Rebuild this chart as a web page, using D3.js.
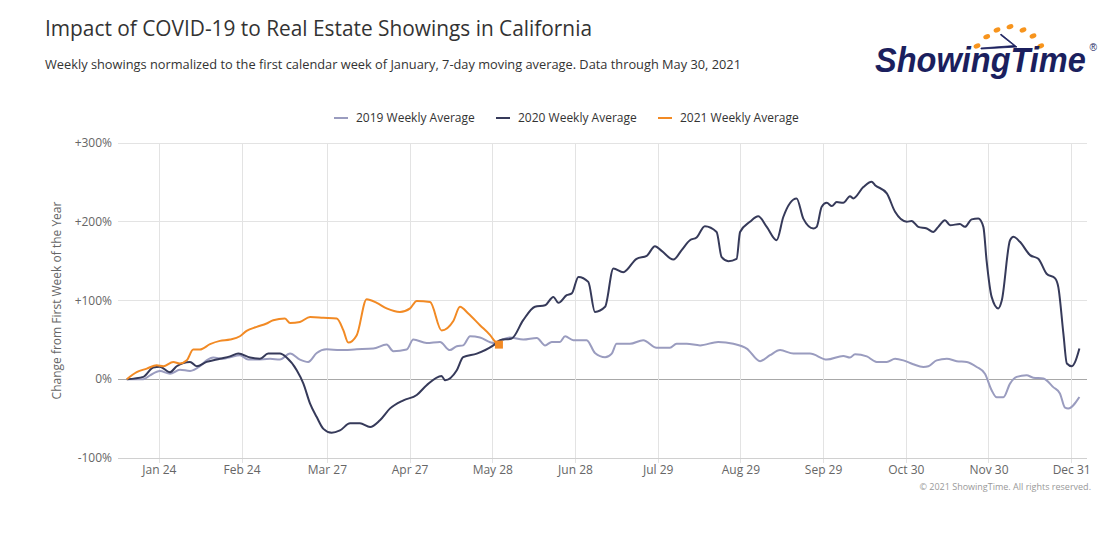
<!DOCTYPE html>
<html><head><meta charset="utf-8">
<script src="https://cdn.jsdelivr.net/npm/d3@7"></script>
<style>
body{margin:0;background:#fff;}
svg{font-family:"Open Sans",sans-serif;display:block;}
</style>
</head><body>
<svg id="chart" width="1113" height="536"></svg>
<script>
// ---- DATA (x = day of year, 0 = Jan 1; y = % change from first week) ----
const seriesNames = ["2019 Weekly Average", "2020 Weekly Average", "2021 Weekly Average"];

const data2019 = [[10.8,0],[17.0,0],[19.5,5],[23.2,10.6],[27.0,7],[30.7,12],[34.5,10.6],[38.2,16.5],[40.7,24],[43.2,27.5],[47.0,26],[49.5,28],[53.2,30.5],[56.3,25],[59.5,25],[64.5,26],[68.2,25],[72.0,32.6],[75.7,25],[78.8,22],[82.0,33.4],[85.7,38],[90.7,37],[97.0,38],[103.2,39],[108.2,44],[110.7,35.6],[115.7,37.7],[118.2,50.4],[123.2,46],[128.2,47.4],[131.9,37],[134.5,42],[136.9,43],[139.5,54.6],[143.2,53],[148.2,46],[154.4,53],[159.4,50.4],[164.5,52.5],[167.6,43],[170.1,47.4],[173.2,47.4],[175.1,54.6],[178.2,49.6],[183.2,49.6],[186.3,33.4],[190.1,28],[192.6,32.6],[194.4,45],[199.4,45],[204.4,49.6],[209.4,40],[214.4,40],[216.9,45],[220.7,45],[225.7,43],[232.5,47.4],[238.2,45],[243.2,39],[248.2,23],[251.9,30.5],[255.7,37],[260.7,32.6],[266.9,32.6],[273.2,25],[279.4,29.6],[281.9,27.5],[283.8,31.8],[288.2,29],[291.9,22],[295.7,22],[298.8,26],[301.9,24],[305.6,19],[309.4,15.6],[311.3,16.5],[314.4,24],[318.2,26],[321.9,23],[325.7,22],[329.4,15.6],[332.5,7],[335.0,-14],[336.9,-23],[339.4,-23],[341.9,-5.5],[344.4,3],[348.1,5],[350.6,2],[354.4,1],[358.1,-10],[360.6,-18],[362.5,-36],[363.7,-37],[367.9,-22.5]];

const data2020 = [[10.8,0],[17.0,3],[20.7,15],[23.2,16],[27.0,9],[29.5,16.5],[34.5,22],[37.0,16.5],[40.7,22],[45.7,26],[49.5,29],[52.6,32.6],[57.0,27.5],[60.7,26],[63.8,32.6],[68.2,32.6],[70.7,27.5],[74.5,11.4],[77.0,-5.5],[79.5,-31],[82.0,-48],[84.5,-63],[87.6,-68],[90.7,-65],[94.5,-56],[98.2,-56],[102.0,-60.6],[105.7,-52],[109.5,-37],[114.5,-26.7],[119.5,-20],[123.2,-7.6],[128.8,4.2],[130.1,-1.3],[134.5,11.4],[136.9,28],[142.0,32.6],[148.2,43],[150.7,49.6],[155.1,51.7],[159.4,75],[163.8,92],[167.6,94],[170.7,104.6],[172.6,97],[175.7,106.7],[177.6,109],[180.1,130],[183.8,123.6],[186.3,85.5],[190.1,92],[193.2,140.6],[196.9,136],[201.9,153],[205.7,156.7],[208.8,169],[211.3,163],[215.7,152],[218.8,164],[221.9,176.6],[224.4,180],[227.5,194.4],[231.9,187],[233.8,155],[236.3,150],[239.4,153],[240.7,187],[244.4,200],[247.5,207],[250.7,193.5],[254.4,176.6],[256.9,206],[261.9,229.6],[264.4,204],[268.2,191.5],[269.4,193.5],[271.3,219],[273.2,224],[275.1,220],[276.9,225],[279.4,224],[281.9,232.5],[283.1,229.6],[286.9,244],[290.0,250.7],[291.3,246.5],[295.7,236],[298.8,212.6],[303.2,200],[305.0,201],[307.5,193.5],[310.7,191.5],[313.1,187],[315.0,193.5],[317.5,202],[319.4,195.7],[323.1,197],[325.0,193.5],[327.5,203],[330.0,204],[331.9,193.5],[333.1,151],[335.0,104.6],[337.5,90],[338.8,100],[341.9,176.6],[343.2,181],[345.6,174.5],[349.4,157.6],[352.5,153],[355.6,134],[358.8,128],[360.0,117],[361.9,58],[363.2,20],[365.1,16.5],[366.3,22],[367.9,39]];

const data2021 = [[10.8,0],[14.5,9],[18.3,13.5],[22.0,17.8],[24.5,16.5],[28.2,22],[30.7,20],[33.3,24],[35.7,37.7],[38.2,37.7],[42.0,44.5],[45.7,48.7],[49.5,50.4],[53.2,54.6],[55.7,61.4],[59.5,66.5],[63.2,70.8],[65.7,75],[70.1,77],[72.0,71.5],[75.7,72.8],[79.5,79],[84.5,78],[89.5,77],[92.0,62],[93.8,46.6],[97.0,56],[100.7,101.6],[104.5,97],[108.2,90],[113.2,85.5],[117.0,90],[119.5,99.5],[124.5,98],[128.8,62],[133.2,74],[135.7,92],[138.8,83.5],[143.2,68.6],[147.0,56],[149.5,45.4],[150.3,44]];

const yTicks = [-100, 0, 100, 200, 300];
const yTickLabels = ["-100%", "0%", "+100%", "+200%", "+300%"];
const xTickDays = [23, 54, 86, 117, 148, 179, 210, 241, 272, 303, 334, 365];
const xTickLabels = ["Jan 24","Feb 24","Mar 27","Apr 27","May 28","Jun 28","Jul 29","Aug 29","Sep 29","Oct 30","Nov 30","Dec 31"];

(function () {
// ---- LAYOUT ----
const colors = ["#9a9cbf", "#363a5a", "#f28a24"];
const svg = d3.select("#chart");
const pL = 118, pR = 1087, pT = 143, pB = 458;

const x = d3.scaleLinear().domain([7.5, 370.75]).range([pL, pR]);
const y = d3.scaleLinear().domain([-100, 300]).range([pB, pT]);

// title & subtitle
svg.append("text").attr("x", 45).attr("y", 36).attr("font-size", 22).attr("fill", "#333")
  .attr("textLength", 547).attr("lengthAdjust", "spacingAndGlyphs")
  .text("Impact of COVID-19 to Real Estate Showings in California");
svg.append("text").attr("x", 45).attr("y", 69).attr("font-size", 13).attr("fill", "#333")
  .attr("textLength", 696).attr("lengthAdjust", "spacingAndGlyphs")
  .text("Weekly showings normalized to the first calendar week of January, 7-day moving average. Data through May 30, 2021");

// logo
const logo = svg.append("g");
const dots = [[977,46],[986.7,36.7],[997,30],[1010,26.7],[1023,30],[1033,36],[1040.7,46]];
logo.selectAll("ellipse").data(dots).join("ellipse")
  .attr("cx", d => d[0]).attr("cy", d => d[1]).attr("rx", 3.5).attr("ry", 2.4)
  .attr("fill", "#f7941d").attr("transform", d => `rotate(-20 ${d[0]} ${d[1]})`);
const lt = logo.append("text").attr("font-size", 35)
  .attr("font-weight", "bold").attr("font-style", "italic").attr("fill", "#1b1f5e")
  .attr("font-family", "'Liberation Sans', Arial, sans-serif");
lt.append("tspan").text("ShowingTime");
lt.append("tspan").attr("font-size", 11).attr("font-style", "normal").attr("font-weight", "normal")
  .attr("dx", 4).attr("dy", -21).text("®");
const len = lt.node().getSubStringLength(0, 11);
lt.attr("transform", `translate(875,72) scale(${211 / len},1)`);
logo.append("path").attr("d", "M1001,34 L1017,47 L981,49 L981,48 L1014,45.6 L1000.5,35 Z")
  .attr("fill", "#1b1f5e").attr("stroke", "#1b1f5e").attr("stroke-width", 0.8);

// legend
const legendX = [334, 496, 658];
const lg = svg.append("g");
seriesNames.forEach((n, i) => {
  lg.append("line").attr("x1", legendX[i]).attr("x2", legendX[i] + 14).attr("y1", 118).attr("y2", 118)
    .attr("stroke", colors[i]).attr("stroke-width", 2);
  lg.append("text").attr("x", legendX[i] + 22).attr("y", 122).attr("font-size", 12).attr("fill", "#333").text(n);
});

// gridlines
const grid = svg.append("g");
grid.selectAll("line.h").data(yTicks).join("line").attr("class", "h")
  .attr("x1", pL).attr("x2", pR).attr("y1", d => y(d)).attr("y2", d => y(d))
  .attr("stroke", d => d === 0 ? "#a8a8a8" : "#e3e3e3").attr("stroke-width", 1)
  .attr("shape-rendering", "crispEdges");
grid.selectAll("line.v").data(xTickDays).join("line").attr("class", "v")
  .attr("x1", d => x(d)).attr("x2", d => x(d)).attr("y1", pT).attr("y2", pB + 5)
  .attr("stroke", "#e3e3e3").attr("shape-rendering", "crispEdges");
svg.append("line").attr("x1", pL).attr("x2", pR).attr("y1", pB).attr("y2", pB)
  .attr("stroke", "#d0d0d0").attr("shape-rendering", "crispEdges");

// y axis labels
svg.append("g").selectAll("text").data(yTicks).join("text")
  .attr("x", 112).attr("y", d => y(d) + 4).attr("text-anchor", "end")
  .attr("font-size", 12).attr("fill", "#666")
  .text((d, i) => yTickLabels[i]);
svg.append("text").attr("transform", `translate(61, ${(pT + pB) / 2}) rotate(-90)`)
  .attr("text-anchor", "middle").attr("font-size", 12).attr("fill", "#666")
  .text("Change from First Week of the Year");

// x axis labels
svg.append("g").selectAll("text").data(xTickDays).join("text")
  .attr("x", d => x(d)).attr("y", 474).attr("text-anchor", "middle")
  .attr("font-size", 12).attr("fill", "#666")
  .text((d, i) => xTickLabels[i]);

// lines
const line = d3.line().x(d => x(d[0])).y(d => y(d[1])).curve(d3.curveMonotoneX);
[data2019, data2020, data2021].forEach((s, i) => {
  svg.append("path").datum(s).attr("d", line).attr("fill", "none")
    .attr("stroke", colors[i]).attr("stroke-width", 2).attr("stroke-linejoin", "round");
});
// end marker for 2021
const last = data2021[data2021.length - 1];
svg.append("rect").attr("x", x(last[0]) - 4).attr("y", y(last[1]) - 4).attr("width", 8).attr("height", 8)
  .attr("fill", colors[2]);

// credits
svg.append("text").attr("x", 1091).attr("y", 490).attr("text-anchor", "end")
  .attr("font-size", 9).attr("fill", "#999").text("© 2021 ShowingTime. All rights reserved.");
})();
</script>
</body></html>
